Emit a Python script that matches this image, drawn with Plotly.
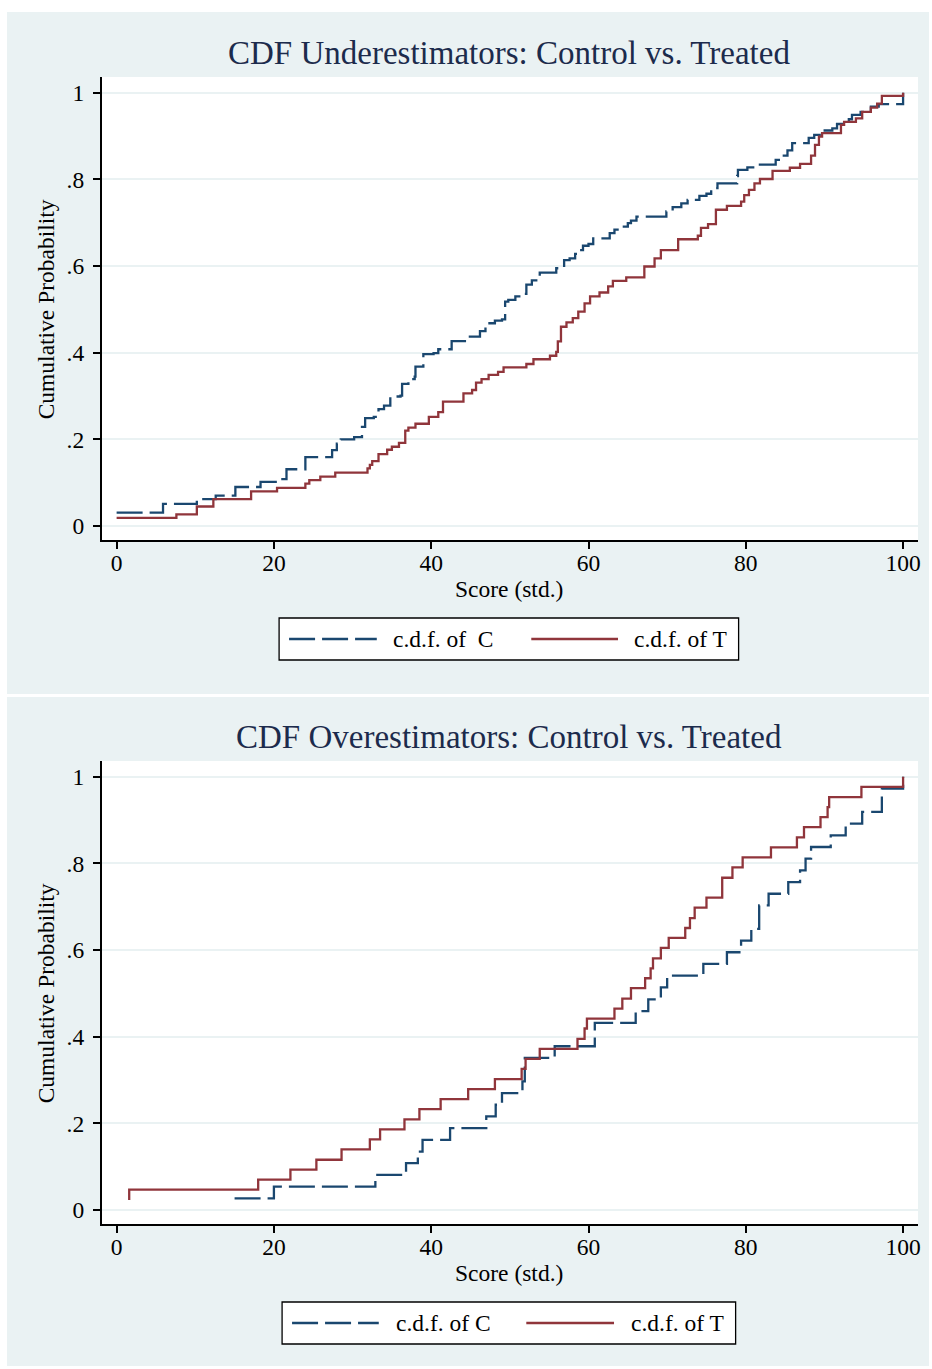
import plotly.graph_objects as go

# ---------------- data ----------------
top_c_x = [0.0, 5.9, 10.2, 12.6, 15.1, 18.3, 20.6, 21.6, 24.0, 27.4, 28.0, 28.5, 30.2, 31.2, 31.6,
           32.7, 33.3, 34.0, 34.8, 36.1, 36.3, 37.1, 37.9, 38.0, 39.0, 40.3, 40.9, 42.6, 44.5,
           46.2, 46.9, 48.1, 49.0, 49.4, 49.8, 50.7, 51.5, 52.1, 52.8, 53.8, 55.9, 56.9, 57.6,
           58.3, 58.7, 59.3, 60.0, 60.6, 62.7, 63.3, 64.2, 65.0, 65.4, 66.1, 69.9, 70.7, 71.8,
           72.6, 74.1, 75.0, 75.6, 76.4, 78.9, 79.0, 80.2, 81.1, 83.8, 84.4, 85.3, 85.9, 88.0,
           88.7, 89.7, 91.0, 91.6, 93.1, 93.5, 94.6, 95.9, 96.9, 100.0]
top_c_y = [0.031, 0.051, 0.062, 0.070, 0.090, 0.102, 0.108, 0.131, 0.159, 0.175, 0.190, 0.200, 0.205,
           0.229, 0.249, 0.252, 0.270, 0.278, 0.299, 0.301, 0.328, 0.339, 0.345, 0.368, 0.397,
           0.399, 0.408, 0.427, 0.437, 0.450, 0.468, 0.474, 0.477, 0.518, 0.522, 0.530, 0.536,
           0.557, 0.567, 0.585, 0.595, 0.614, 0.618, 0.628, 0.637, 0.647, 0.651, 0.664, 0.676,
           0.684, 0.691, 0.699, 0.705, 0.714, 0.726, 0.736, 0.745, 0.753, 0.762, 0.767, 0.780,
           0.791, 0.808, 0.822, 0.828, 0.834, 0.845, 0.855, 0.867, 0.884, 0.896, 0.903, 0.913,
           0.918, 0.928, 0.939, 0.949, 0.956, 0.968, 0.974, 1.000]

top_t_x = [0.0, 7.6, 10.2, 12.3, 17.1, 20.4, 24.0, 24.5, 25.9, 27.8, 31.9, 32.2, 32.5, 33.3, 34.4,
           35.0, 35.9, 36.7, 37.1, 38.0, 39.7, 40.9, 41.5, 44.1, 45.2, 45.7, 46.4, 47.3, 48.5,
           49.2, 52.1, 53.0, 55.1, 55.9, 56.1, 56.5, 57.2, 58.0, 58.7, 59.5, 60.2, 61.4, 62.5,
           63.1, 64.8, 67.1, 68.4, 69.2, 71.4, 73.9, 74.3, 75.2, 76.2, 77.6, 79.4, 79.8, 80.4,
           81.1, 81.8, 83.4, 85.6, 86.9, 88.3, 88.8, 89.3, 89.7, 92.1, 92.5, 94.0, 94.8, 95.9,
           96.7, 97.3, 100.0]
top_t_y = [0.019, 0.027, 0.045, 0.062, 0.080, 0.088, 0.098, 0.106, 0.114, 0.123, 0.133, 0.141, 0.150,
           0.166, 0.176, 0.183, 0.192, 0.220, 0.227, 0.236, 0.252, 0.263, 0.287, 0.306, 0.314,
           0.331, 0.339, 0.349, 0.356, 0.366, 0.374, 0.385, 0.393, 0.402, 0.426, 0.460, 0.470,
           0.480, 0.495, 0.514, 0.530, 0.539, 0.553, 0.566, 0.574, 0.599, 0.618, 0.637, 0.662,
           0.670, 0.688, 0.697, 0.730, 0.739, 0.749, 0.764, 0.776, 0.791, 0.801, 0.820, 0.827,
           0.836, 0.855, 0.880, 0.899, 0.907, 0.926, 0.933, 0.941, 0.956, 0.966, 0.975, 0.993,
           1.000]

bot_c_x = [15.0, 20.0, 32.9, 36.8, 38.3, 38.9, 42.4, 47.0, 48.2, 49.0, 51.6, 51.9, 51.9, 55.7,
           60.8, 60.8, 66.0, 67.6, 69.2, 70.0, 74.6, 77.6, 79.4, 80.7, 81.7, 81.7, 82.9, 85.4,
           86.9, 87.6, 88.3, 90.8, 92.7, 94.8, 97.3, 97.3, 100.0]
bot_c_y = [0.027, 0.054, 0.081, 0.108, 0.135, 0.162, 0.189, 0.216, 0.243, 0.270, 0.297, 0.324,
           0.351, 0.378, 0.405, 0.432, 0.459, 0.486, 0.514, 0.541, 0.568, 0.595, 0.622, 0.649,
           0.676, 0.703, 0.730, 0.757, 0.784, 0.811, 0.838, 0.865, 0.892, 0.919, 0.946, 0.973,
           1.000]

bot_t_x = [1.6, 1.6, 18.0, 22.1, 25.4, 28.6, 32.2, 33.5, 36.6, 38.5, 41.2, 44.7, 48.1, 51.5, 52.0,
           53.8, 58.6, 59.5, 59.8, 63.3, 64.3, 65.4, 67.2, 67.9, 68.2, 69.2, 70.2, 72.3, 72.9,
           73.5, 75.0, 77.0, 77.0, 78.3, 79.6, 83.2, 86.5, 87.4, 89.5, 90.4, 90.6, 94.7, 100.0]
bot_t_y = [0.023, 0.047, 0.070, 0.093, 0.116, 0.140, 0.163, 0.186, 0.209, 0.233, 0.256, 0.279,
           0.302, 0.326, 0.349, 0.372, 0.395, 0.419, 0.442, 0.465, 0.488, 0.512, 0.535, 0.558,
           0.581, 0.605, 0.628, 0.651, 0.674, 0.698, 0.721, 0.744, 0.767, 0.791, 0.814, 0.837,
           0.860, 0.884, 0.907, 0.930, 0.953, 0.977, 1.000]

titles = ["CDF Underestimators: Control vs. Treated", "CDF Overestimators: Control vs. Treated"]
legend_c = ["c.d.f. of\u00a0\u00a0C", "c.d.f. of C"]
legend_t = ["c.d.f. of T", "c.d.f. of T"]
x_title = "Score (std.)"
y_title = "Cumulative Probability"
x_ticks = [0, 20, 40, 60, 80, 100]
y_ticks = [0, 0.2, 0.4, 0.6, 0.8, 1]
y_ticktext = ["0", ".2", ".4", ".6", ".8", "1"]

# ---------------- style ----------------
W, H = 932, 1369
FONT = "Liberation Serif, Times New Roman, serif"
NAVY = "#1A476F"
MAROON = "#90353B"
BG = "#EAF2F3"
TITLE_C = "#1C2B4C"
DASH = "26px,7px"
LW = 2.3


def px(x):
    return x / W


def py(y):
    return 1 - y / H


fig = go.Figure()

series = [
    (top_c_x, top_c_y, top_t_x, top_t_y, "x", "y"),
    (bot_c_x, bot_c_y, bot_t_x, bot_t_y, "x2", "y2"),
]
for cx, cy, tx, ty, xa, ya in series:
    fig.add_trace(go.Scatter(x=cx, y=cy, mode="lines", line_shape="hv",
                             line=dict(color=NAVY, width=LW, dash=DASH),
                             xaxis=xa, yaxis=ya, showlegend=False, hoverinfo="skip"))
    fig.add_trace(go.Scatter(x=tx, y=ty, mode="lines", line_shape="hv",
                             line=dict(color=MAROON, width=LW),
                             xaxis=xa, yaxis=ya, showlegend=False, hoverinfo="skip"))

# panel geometry (pixels)
panels = [
    dict(bg=(7, 12, 932, 694), plot=(102, 77, 921, 540), title_y=53, xt_y=589, yt_x=46,
         leg=(280, 618, 741, 660), lc=(290, 378), ltc=392, lt=(533, 620), ltt=634),
    dict(bg=(7, 697, 932, 1366), plot=(102, 761, 921, 1224), title_y=737, xt_y=1273, yt_x=46,
         leg=(283, 1302, 738, 1344), lc=(293, 380), ltc=395, lt=(528, 616), ltt=631),
]

shapes = []
annotations = []
axis_font = dict(family=FONT, size=23.5, color="black")
for i, p in enumerate(panels):
    x0, y0, x1, y1 = p["bg"]
    shapes.append(dict(type="rect", xref="paper", yref="paper", x0=px(x0), x1=px(x1),
                       y0=py(y1), y1=py(y0), fillcolor=BG, line=dict(width=0), layer="below"))
    a0, b0, a1, b1 = p["plot"]
    shapes.append(dict(type="rect", xref="paper", yref="paper", x0=px(a0), x1=px(a1),
                       y0=py(b1), y1=py(b0), fillcolor="white", line=dict(width=0), layer="below"))
    # legend box
    l0, m0, l1, m1 = p["leg"]
    shapes.append(dict(type="rect", xref="paper", yref="paper", x0=px(l0), x1=px(l1),
                       y0=py(m1), y1=py(m0), fillcolor="white",
                       line=dict(color="black", width=1.3), layer="above"))
    ly = (m0 + m1) / 2
    shapes.append(dict(type="line", xref="paper", yref="paper", x0=px(p["lc"][0]), x1=px(p["lc"][1]),
                       y0=py(ly), y1=py(ly), line=dict(color=NAVY, width=LW, dash=DASH)))
    shapes.append(dict(type="line", xref="paper", yref="paper", x0=px(p["lt"][0]), x1=px(p["lt"][1]),
                       y0=py(ly), y1=py(ly), line=dict(color=MAROON, width=LW)))
    annotations.append(dict(text=legend_c[i], xref="paper", yref="paper", x=px(p["ltc"]), y=py(ly),
                            xanchor="left", yanchor="middle", showarrow=False, font=axis_font))
    annotations.append(dict(text=legend_t[i], xref="paper", yref="paper", x=px(p["ltt"]), y=py(ly),
                            xanchor="left", yanchor="middle", showarrow=False, font=axis_font))
    # titles
    annotations.append(dict(text=titles[i], xref="paper", yref="paper", x=px(511), y=py(p["title_y"]),
                            xanchor="center", yanchor="middle", showarrow=False,
                            font=dict(family=FONT, size=33, color=TITLE_C)))
    annotations.append(dict(text=x_title, xref="paper", yref="paper", x=px(511), y=py(p["xt_y"]),
                            xanchor="center", yanchor="middle", showarrow=False, font=axis_font))
    annotations.append(dict(text=y_title, xref="paper", yref="paper", x=px(p["yt_x"]),
                            y=py((b0 + b1) / 2 + 1), xanchor="center", yanchor="middle",
                            showarrow=False, textangle=-90, font=axis_font))


def xaxis(dom_anchor):
    return dict(domain=[px(102), px(921)], range=[-1.9, 101.9], anchor=dom_anchor,
                tickvals=x_ticks, ticks="outside", ticklen=7, tickwidth=1.5, tickcolor="black",
                showline=True, linecolor="black", linewidth=1.5, showgrid=False, zeroline=False,
                tickfont=axis_font, ticklabelstandoff=-6, fixedrange=True)


def yaxis(b0, b1, dom_anchor):
    return dict(domain=[py(b1), py(b0)], range=[-0.0323, 1.0365], anchor=dom_anchor,
                tickvals=y_ticks, ticktext=y_ticktext, ticks="outside", ticklen=7, tickwidth=1.5,
                tickcolor="black", showline=True, linecolor="black", linewidth=1.5,
                showgrid=True, gridcolor=BG, gridwidth=2, zeroline=False,
                tickfont=axis_font, ticklabelstandoff=4, fixedrange=True)


fig.update_layout(
    width=W, height=H, margin=dict(l=0, r=0, t=0, b=0),
    paper_bgcolor="white", plot_bgcolor="white",
    xaxis=xaxis("y"), yaxis=yaxis(77, 540, "x"),
    xaxis2=xaxis("y2"), yaxis2=yaxis(761, 1224, "x2"),
    shapes=shapes, annotations=annotations, showlegend=False,
)

fig.write_html("out.html", config={"displayModeBar": False},
               post_script="document.body.style.margin='0px';document.body.style.overflow='hidden';")
